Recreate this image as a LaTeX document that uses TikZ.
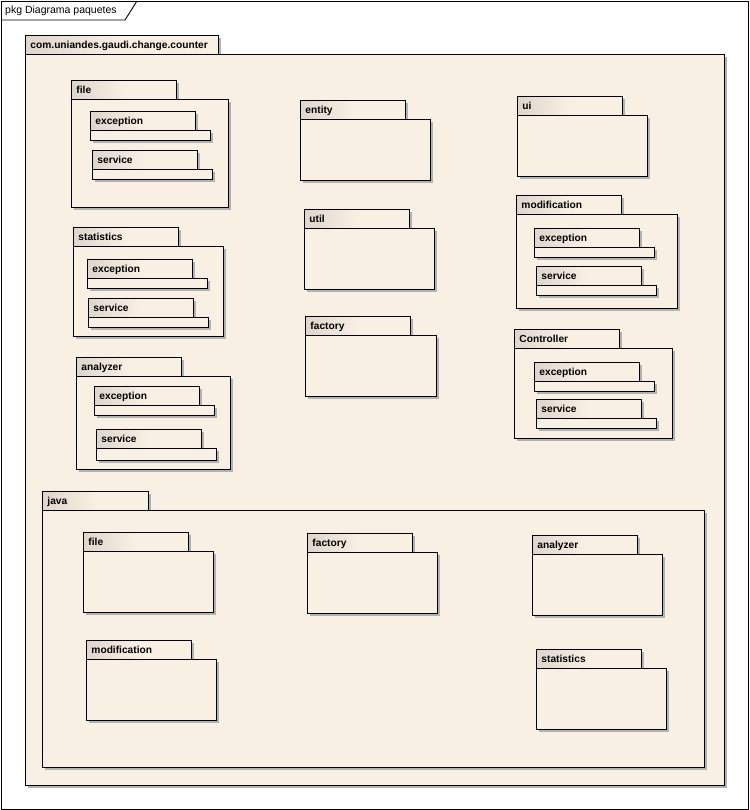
\documentclass[tikz,border=0pt]{standalone}
\usepackage{fontspec}
\setmainfont{Liberation Sans}
\usetikzlibrary{shadows}
\definecolor{pkgcream}{RGB}{249,240,228}
\definecolor{pkgtabgrey}{RGB}{222,214,203}
\definecolor{pkgshadow}{RGB}{178,178,178}

\begin{document}
\begin{tikzpicture}[
    x=1pt, y=-1pt,
    pkgshade/.style={drop shadow={shadow xshift=3pt, shadow yshift=-3pt, opacity=1, fill=pkgshadow}},
    pkgtab/.style={rectangle, draw, line width=0.9pt, anchor=north west, pkgshade, left color=pkgtabgrey, right color=pkgcream, middle color=pkgcream, text width=95pt, inner xsep=5pt, inner ysep=0pt, minimum height=19pt, text height=7.5pt, text depth=1pt, align=left, font=\fontsize{10.2pt}{12pt}\selectfont\bfseries},
    pkgbody/.style={rectangle, draw, line width=0.9pt, anchor=north west, pkgshade, fill=pkgcream, minimum width=130pt, minimum height=61pt, inner sep=0pt},
    subbar/.style={pkgbody, minimum width=120pt, minimum height=10pt}
]
    \useasboundingbox (0,0) rectangle (749,810);
    \draw[line width=0.9pt, fill=white] (1,1) rectangle (748,809);
    \node[anchor=west, inner sep=0pt, font=\fontsize{10.5pt}{12pt}\selectfont] (frame-title) at (5,11) {pkg Diagrama paquetes};
    \draw[line width=0.9pt] (1,20) -- (125,20) -- (137,1);

    \node[pkgtab, text width=183pt] (counter-tab) at (25,35) {com.uniandes.gaudi.change.counter};
    \node[pkgbody, minimum width=699pt, minimum height=731pt] (counter-body) at (25,54) {};

    \node[pkgtab] (file-tab) at (71,80) {file};
    \node[pkgbody, minimum width=157pt, minimum height=108pt] (file-body) at (71,99) {};
    \node[pkgtab] (file-exc-tab) at (90,111) {exception};
    \node[subbar] (file-exc-bar) at (90,130) {};
    \node[pkgtab] (file-srv-tab) at (92,150) {service};
    \node[subbar] (file-srv-bar) at (92,169) {};

    \node[pkgtab] (stat-tab) at (73,227) {statistics};
    \node[pkgbody, minimum width=150pt, minimum height=90pt] (stat-body) at (73,246) {};
    \node[pkgtab] (stat-exc-tab) at (87,259) {exception};
    \node[subbar] (stat-exc-bar) at (87,278) {};
    \node[pkgtab] (stat-srv-tab) at (88,298) {service};
    \node[subbar] (stat-srv-bar) at (88,317) {};

    \node[pkgtab] (anal-tab) at (76,357) {analyzer};
    \node[pkgbody, minimum width=154pt, minimum height=93pt] (anal-body) at (76,376) {};
    \node[pkgtab] (anal-exc-tab) at (94,386) {exception};
    \node[subbar] (anal-exc-bar) at (94,405) {};
    \node[pkgtab] (anal-srv-tab) at (96,429) {service};
    \node[subbar, minimum height=12pt] (anal-srv-bar) at (96,448) {};

    \node[pkgtab] (entity-tab) at (300,100) {entity};
    \node[pkgbody] (entity-body) at (300,119) {};
    \node[pkgtab] (util-tab) at (304,209) {util};
    \node[pkgbody] (util-body) at (304,228) {};
    \node[pkgtab] (fact-tab) at (305,316) {factory};
    \node[pkgbody, minimum width=131pt] (fact-body) at (305,335) {};

    \node[pkgtab] (ui-tab) at (517,96) {ui};
    \node[pkgbody] (ui-body) at (517,115) {};

    \node[pkgtab] (modif-tab) at (516,195) {modification};
    \node[pkgbody, minimum width=161pt, minimum height=94pt] (modif-body) at (516,214) {};
    \node[pkgtab] (modif-exc-tab) at (534,228) {exception};
    \node[subbar] (modif-exc-bar) at (534,247) {};
    \node[pkgtab] (modif-srv-tab) at (536,266) {service};
    \node[subbar] (modif-srv-bar) at (536,285) {};

    \node[pkgtab] (ctrl-tab) at (514,329) {Controller};
    \node[pkgbody, minimum width=158pt, minimum height=90pt] (ctrl-body) at (514,348) {};
    \node[pkgtab] (ctrl-exc-tab) at (534,362) {exception};
    \node[subbar] (ctrl-exc-bar) at (534,381) {};
    \node[pkgtab] (ctrl-srv-tab) at (536,399) {service};
    \node[subbar] (ctrl-srv-bar) at (536,418) {};

    \node[pkgtab, text width=96pt] (java-tab) at (42,491) {java};
    \node[pkgbody, minimum width=662pt, minimum height=257pt] (java-body) at (42,510) {};
    \node[pkgtab] (java-file-tab) at (83,532) {file};
    \node[pkgbody] (java-file-body) at (83,551) {};
    \node[pkgtab] (java-fact-tab) at (307,533) {factory};
    \node[pkgbody] (java-fact-body) at (307,552) {};
    \node[pkgtab] (java-anal-tab) at (532,535) {analyzer};
    \node[pkgbody] (java-anal-body) at (532,554) {};
    \node[pkgtab] (java-modif-tab) at (86,640) {modification};
    \node[pkgbody] (java-modif-body) at (86,659) {};
    \node[pkgtab] (java-stat-tab) at (536,649) {statistics};
    \node[pkgbody] (java-stat-body) at (536,668) {};
\end{tikzpicture}
\end{document}
